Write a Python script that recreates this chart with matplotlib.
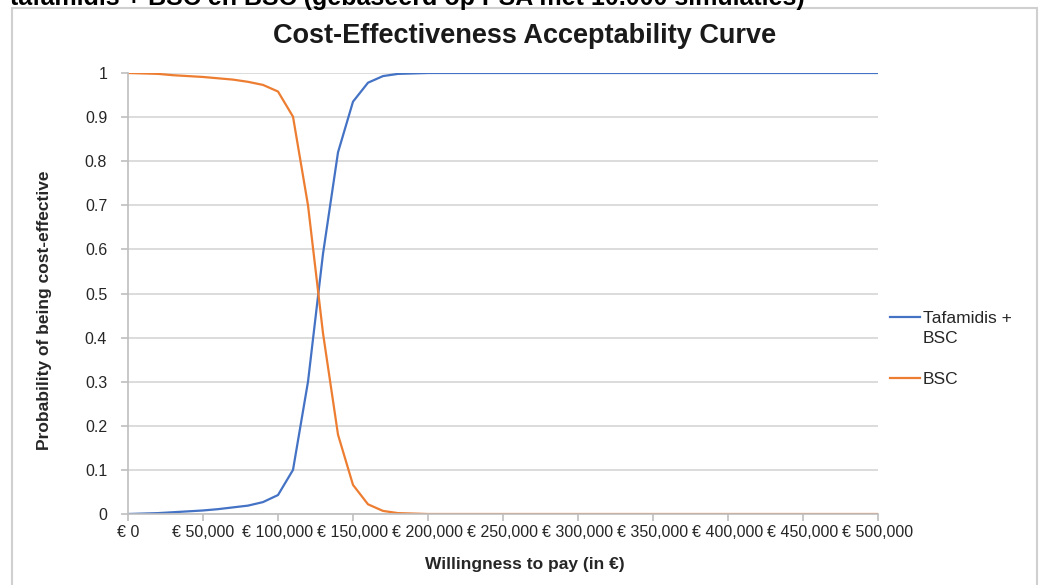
import numpy as np
import matplotlib
matplotlib.use("Agg")
import matplotlib.pyplot as plt
from matplotlib.patches import Rectangle
from matplotlib.ticker import FuncFormatter

plt.rcParams['font.family'] = ['Liberation Sans', 'DejaVu Sans']

# willingness to pay (in euro), steps of 10.000
wtp = [0, 10000, 20000, 30000, 40000, 50000, 60000, 70000, 80000, 90000,
       100000, 110000, 120000, 130000, 140000, 150000, 160000, 170000, 180000, 190000,
       200000, 210000, 220000, 230000, 240000, 250000, 260000, 270000, 280000, 290000,
       300000, 310000, 320000, 330000, 340000, 350000, 360000, 370000, 380000, 390000,
       400000, 410000, 420000, 430000, 440000, 450000, 460000, 470000, 480000, 490000,
       500000]

# probability of being cost-effective
tafamidis_bsc = [0.000, 0.001, 0.002, 0.004, 0.006, 0.008, 0.011, 0.015, 0.019, 0.027,
                 0.043, 0.100, 0.300, 0.590, 0.820, 0.935, 0.978, 0.993, 0.998, 0.999] + [1.0] * 31
bsc = [1.000, 0.999, 0.998, 0.995, 0.993, 0.991, 0.988, 0.985, 0.980, 0.973,
       0.958, 0.901, 0.700, 0.410, 0.180, 0.066, 0.022, 0.007, 0.002, 0.001] + [0.0] * 31

series_names = ["Tafamidis +\nBSC", "BSC"]
series_colors = ["#4472C4", "#ED7D31"]

W, H = 1043, 585
fig = plt.figure(figsize=(W / 100, H / 100), dpi=100)
ax = fig.add_axes([128 / W, 1 - 514 / H, (878 - 128) / W, (514 - 73) / H])

for vals, name, col in zip([tafamidis_bsc, bsc], series_names, series_colors):
    ax.plot(wtp, vals, color=col, lw=1.6, label=name, solid_joinstyle='round')

ax.set_xlim(0, 500000)
ax.set_ylim(0, 1)
ax.set_xticks(np.arange(0, 500001, 50000))
ax.set_yticks(np.arange(0, 1.01, 0.1))
ax.xaxis.set_major_formatter(FuncFormatter(lambda v, p: "€ " + format(int(v), ",")))
ax.yaxis.set_major_formatter(FuncFormatter(lambda v, p: "0" if v == 0 else ("1" if abs(v - 1) < 1e-9 else f"{v:.1f}")))

ax.grid(axis='y', color='#d9d9d9', lw=1.3)
ax.set_axisbelow(True)
for s in ['top', 'right']:
    ax.spines[s].set_visible(False)
for s in ['left', 'bottom']:
    ax.spines[s].set_color('#bfbfbf')
    ax.spines[s].set_linewidth(1.2)
ax.tick_params(axis='both', colors='#bfbfbf', labelcolor='#262626', labelsize=11.5, length=5, width=1.2)
ax.tick_params(axis='x', pad=3)
ax.tick_params(axis='y', pad=10)

ax.set_xlabel("Willingness to pay (in €)", fontsize=12.5, fontweight='bold', color='#262626')
ax.set_ylabel("Probability of being cost-effective", fontsize=12.5, fontweight='bold', color='#262626')
ax.xaxis.set_label_coords(0.529, -0.097)
ax.yaxis.set_label_coords(-0.101, 0.463)

fig.text(525 / W, 1 - 36 / H, "Cost-Effectiveness Acceptability Curve", ha='center', va='center',
         fontsize=19.5, fontweight='bold', color='#1a1a1a')

# clipped heading of the page above the chart
fig.text(10 / W, 1 - 5 / H, "tafamidis + BSC en BSC (gebaseerd op PSA met 10.000 simulaties)",
         ha='left', va='baseline', fontsize=18, fontweight='bold', color='black')

leg = ax.legend(loc='center left', bbox_to_anchor=(1 + 12 / 750, 0.374), frameon=False,
                fontsize=12.5, handlelength=1.75, handletextpad=0.15, labelspacing=1.5,
                borderpad=0, borderaxespad=0)
for t in leg.get_texts():
    t.set_color('#262626')
    t.set_linespacing(1.4)
# excel puts the line sample next to the first text line
h0 = leg.legend_handles[0]
h0.set_ydata([v + 8 for v in h0.get_ydata()])

# chart area border
fig.add_artist(Rectangle((12 / W, -0.1), (1037 - 12) / W, 1 - 8 / H + 0.1, transform=fig.transFigure,
                         fill=False, edgecolor='#d0d0d0', lw=1.5))

fig.savefig("out.png", dpi=100)
